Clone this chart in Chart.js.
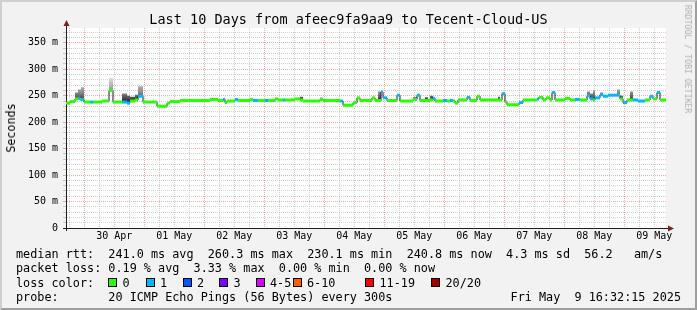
<!DOCTYPE html>
<html><head><meta charset="utf-8">
<script src="https://cdn.jsdelivr.net/npm/chart.js@4.4.1/dist/chart.umd.min.js"></script>
<style>
html,body{margin:0;padding:0;background:#f2f2f2;}
#wrap{position:relative;width:697px;height:310px;background:#f2f2f2;overflow:hidden;font-family:'DejaVu Sans Mono',monospace;color:#000;}
#frame{position:absolute;left:0;top:0;width:697px;height:310px;box-sizing:border-box;border-top:2px solid #cfcfcf;border-left:2px solid #cfcfcf;border-right:2px solid #9e9e9e;border-bottom:2px solid #9e9e9e;pointer-events:none;}
canvas{position:absolute;left:0;top:0;}
.t{position:absolute;white-space:pre;}
.leg{font-size:11.8px;line-height:14.2px;left:16px;}
.box{position:absolute;width:9px;height:9px;box-sizing:border-box;border:1px solid #000;}
</style></head>
<body>
<div id="wrap">
<canvas id="c" width="697" height="310"></canvas>
<div class="t" id="title" style="left:0;width:697px;text-align:center;top:11px;font-size:13.5px;line-height:16px;">Last 10 Days from afeec9fa9aa9 to Tecent-Cloud-US</div>
<div class="t" style="left:10.5px;top:128px;font-size:11.7px;line-height:14px;transform:translate(-50%,-50%) rotate(-90deg);">Seconds</div>
<div class="t" style="left:688px;top:59px;font-size:8.2px;line-height:10px;color:#b0b0b0;transform:translate(-50%,-50%) rotate(90deg);">RRDTOOL / TOBI OETIKER</div>
<div class="t leg" id="row1" style="top:247.2px;"></div>
<div class="t leg" id="row2" style="top:261.4px;"></div>
<div class="t leg" id="row3" style="top:275.6px;">loss color:</div>
<div class="t leg" id="row4" style="top:289.8px;"></div>
<div class="t leg" id="date" style="top:289.8px;left:auto;right:16px;"></div>
<div id="frame"></div>
</div>
<script>
// ---- data (hours since 30 Apr 00:00; values in ms) ----
const xMinH = -7.3, xMaxH = 232.7, endH = 232.7;
const dayLabels = ['30 Apr','01 May','02 May','03 May','04 May','05 May','06 May','07 May','08 May','09 May'];
const dayNoonH  = [12, 36, 60, 84, 108, 132, 156, 180, 204, 228];
const yLabelVals = [0, 50, 100, 150, 200, 250, 300, 350];
const yLabels    = ['0','50 m','100 m','150 m','200 m','250 m','300 m','350 m'];
const yMax = 378;

const segStartH = [-7.3,-5.7,-3.7,-2.5,-1.7,-1.3,-0.1,2.3,3.5,7.1,9.9,11.5,15.1,17.1,18.3,20.3,21.5,23.5,29.1,33.1,34.3,38.3,50.3,53.5,55.5,56.3,57.1,60.3,61.5,66.3,67.5,69.5,72.3,73.5,76.3,77.5,79.5,80.3,84.3,86.3,87.5,94.3,95.5,102.3,103.5,107.5,109.1,110.3,115.1,116.3,117.5,118.7,119.5,121.1,125.1,126.3,131.5,133.1,134.3,136.3,137.5,138.3,139.5,140.3,143.5,145.1,146.3,147.5,148.3,149.5,153.1,154.3,157.1,158.3,165.5,166.3,167.1,168.3,169.1,173.9,175.5,181.1,181.9,183.5,184.7,186.3,187.1,188.3,192.3,194.3,196.3,198.3,201.1,202.3,203.5,204.3,206.3,207.5,209.5,213.1,214.3,215.5,217.1,218.3,219.5,221.5,224.3,226.3,227.5,229.1,230.3];
const medianMs  = [236,239,244,245,243,243,238,238,238,240,260,238,238,236,240,242,249,238,230,236,239,241,243,241,243,237,240,243,241,243,241,241,241,241,244,242,242,242,244,242,240,243,241,240,232,237,246,241,246,241,241,257,246,241,251,240,243,251,241,241,241,242,245,240,241,240,241,240,236,242,247,241,249,242,242,242,254,238,233,237,242,244,247,242,246,242,256,242,245,242,243,242,250,244,242,246,252,249,251,251,244,237,242,242,242,240,242,249,244,256,242];
const lossCat   = [0,0,0,1,0,1,0,1,0,0,0,0,1,1,0,0,1,0,0,0,0,0,0,0,1,0,0,1,0,0,1,0,1,0,0,0,1,0,0,0,0,0,0,1,0,0,0,0,0,0,0,1,1,0,1,0,0,1,0,0,0,0,1,0,1,0,1,0,0,0,1,0,0,0,0,0,1,0,0,1,0,1,0,0,0,0,1,0,0,0,1,0,1,1,0,1,1,1,1,1,0,1,0,0,1,1,0,1,0,1,0];
const smokeTopMs= [null,null,256,262,262,266,null,null,null,null,284,null,254,250,248,252,268,null,null,null,null,null,null,null,null,null,null,null,null,null,null,null,null,null,null,null,null,null,null,248,null,246,null,null,null,null,null,null,null,null,258,null,null,null,null,null,247,null,null,247,null,250,null,null,null,null,null,null,null,null,null,null,null,null,248,null,null,null,null,null,null,null,null,null,null,null,null,null,null,null,null,null,258,254,260,null,256,null,null,262,250,null,null,258,null,null,null,null,null,null,null];
const lossLabels = ['0','1','2','3','4-5','6-10','11-19','20/20'];
const lossColors = ['#26ff00','#00b8ff','#0059ff','#7e00ff','#dd00ff','#ff5e00','#ff0000','#a10000'];

const statsRow1 = 'median rtt:  241.0 ms avg  260.3 ms max  230.1 ms min  240.8 ms now  4.3 ms sd  56.2   am/s';
const statsRow2 = 'packet loss: 0.19 % avg  3.33 % max  0.00 % min  0.00 % now';
const probeRow  = 'probe:       20 ICMP Echo Pings (56 Bytes) every 300s';
const dateText  = 'Fri May  9 16:32:15 2025';

// ---- text ----
document.getElementById('row1').textContent = statsRow1;
document.getElementById('row2').textContent = statsRow2;
document.getElementById('row4').textContent = probeRow;
document.getElementById('date').textContent = dateText;
const legendBoxX = [108,145.5,182.5,219,255.5,292.5,365,431];
const wrap = document.getElementById('wrap');
lossLabels.forEach((lab, i) => {
  const b = document.createElement('div');
  b.className = 'box';
  b.style.left = legendBoxX[i] + 'px'; b.style.top = '278px'; b.style.background = lossColors[i];
  wrap.appendChild(b);
  const t = document.createElement('div');
  t.className = 't leg'; t.textContent = lab;
  t.style.left = (legendBoxX[i] + 14.5) + 'px'; t.style.top = '275.6px';
  wrap.appendChild(t);
});

// ---- datasets built from arrays ----
const segEnd = i => (i + 1 < segStartH.length ? segStartH[i + 1] : endH);
const bandPts = [];
segStartH.forEach((x, i) => {
  bandPts.push({x: x, y: medianMs[i]}, {x: segEnd(i), y: medianMs[i]}, {x: segEnd(i), y: null});
});
const medPts = segStartH.map((x, i) => ({x: x, y: medianMs[i]}));
medPts.push({x: endH, y: medianMs[medianMs.length - 1]});
const smokePts = segStartH.map((x, i) => ({x: x, y: smokeTopMs[i] == null ? medianMs[i] : smokeTopMs[i]}));
smokePts.push({x: endH, y: medianMs[medianMs.length - 1]});

const xTicks = [];
for (let v = -6; v <= xMaxH; v += 6) xTicks.push(v);
const yTicks = [];
for (let v = 0; v < yMax; v += 10) yTicks.push(v);

const GRID = 'rgba(143,143,143,0.42)';
const MGRID = 'rgba(222,60,60,0.42)';
const FONT = 'DejaVu Sans Mono';

const bgPlugin = {
  id: 'bg',
  beforeDraw(chart) {
    const {ctx, chartArea: a} = chart;
    ctx.save(); ctx.fillStyle = '#ffffff';
    ctx.fillRect(a.left, a.top, a.right - a.left, a.bottom - a.top);
    ctx.restore();
  }
};
const axisDeco = {
  id: 'axisDeco',
  afterDraw(chart) {
    const {ctx, chartArea: a} = chart;
    ctx.save();
    ctx.strokeStyle = '#1f1f1f'; ctx.lineWidth = 1;
    ctx.beginPath();
    ctx.moveTo(a.left + 0.5, a.top + 1); ctx.lineTo(a.left + 0.5, a.top - 2);
    ctx.moveTo(a.left - 3, a.bottom + 0.5); ctx.lineTo(a.left, a.bottom + 0.5);
    ctx.moveTo(a.right, a.bottom + 0.5); ctx.lineTo(a.right + 3, a.bottom + 0.5);
    ctx.moveTo(a.left + 0.5, a.bottom); ctx.lineTo(a.left + 0.5, a.bottom + 3);
    ctx.stroke();
    ctx.fillStyle = '#801f1f';
    ctx.beginPath();
    ctx.moveTo(a.left - 2.5, a.top - 2); ctx.lineTo(a.left + 3.5, a.top - 2); ctx.lineTo(a.left + 0.5, a.top - 8); ctx.closePath(); ctx.fill();
    ctx.beginPath();
    ctx.moveTo(a.right + 2, a.bottom - 2.5); ctx.lineTo(a.right + 2, a.bottom + 3.5); ctx.lineTo(a.right + 8, a.bottom + 0.5); ctx.closePath(); ctx.fill();
    ctx.restore();
  }
};

new Chart(document.getElementById('c'), {
  type: 'line',
  data: {
    datasets: [
      {
        label: 'median (loss colour)', data: bandPts, borderWidth: 3, pointRadius: 0, spanGaps: false,
        borderColor: lossColors[0], borderCapStyle: 'butt',
        segment: { borderColor: c => lossColors[lossCat[Math.floor(c.p0DataIndex / 3)]] }
      },
      {
        label: 'median', data: medPts, borderWidth: 1, pointRadius: 0, stepped: true, borderColor: '#1a1a1a'
      },
      {
        label: 'smoke', data: smokePts, borderWidth: 0, pointRadius: 0, stepped: true, borderColor: 'rgba(0,0,0,0)',
        fill: 1,
        backgroundColor: c => {
          const ch = c.chart; const a = ch.chartArea;
          if (!a) return '#999';
          const y0 = ch.scales.y.getPixelForValue(240), y1 = ch.scales.y.getPixelForValue(286);
          const g = ch.ctx.createLinearGradient(0, y0, 0, y1);
          g.addColorStop(0, '#2e2e2e'); g.addColorStop(0.35, '#8a8a8a'); g.addColorStop(1, '#e6e6e6');
          return g;
        }
      }
    ]
  },
  options: {
    responsive: false, animation: false, devicePixelRatio: 1,
    layout: { padding: { left: 0, right: 31, top: 28, bottom: 0 } },
    plugins: { legend: { display: false }, tooltip: { enabled: false }, title: { display: false } },
    scales: {
      x: {
        type: 'linear', min: xMinH, max: xMaxH,
        afterFit: s => { s.height = 82; },
        afterBuildTicks: s => { s.ticks = xTicks.map(v => ({ value: v })); },
        ticks: {
          autoSkip: false, maxRotation: 0, minRotation: 0, padding: 2, color: '#000',
          font: { family: FONT, size: 10 },
          callback: v => { const k = dayNoonH.indexOf(v); return k >= 0 ? dayLabels[k] : ''; }
        },
        grid: { drawTicks: false, lineWidth: 1, color: c => (c.tick && c.tick.value % 24 === 0 ? MGRID : GRID) },
        border: { display: true, color: '#1f1f1f', width: 1, dash: [1, 1] }
      },
      y: {
        min: 0, max: yMax,
        afterFit: s => { s.width = 66; },
        afterBuildTicks: s => { s.ticks = yTicks.map(v => ({ value: v })); },
        ticks: {
          autoSkip: false, padding: 5, color: '#000', font: { family: FONT, size: 10 },
          callback: v => { const k = yLabelVals.indexOf(v); return k >= 0 ? yLabels[k] : ''; }
        },
        grid: {
          tickLength: 3, lineWidth: 1,
          color: c => (c.tick && c.tick.value % 50 === 0 ? MGRID : GRID)
        },
        border: { display: true, color: '#1f1f1f', width: 1, dash: [1, 1] }
      }
    }
  },
  plugins: [bgPlugin, axisDeco]
});
</script>
</body></html>
